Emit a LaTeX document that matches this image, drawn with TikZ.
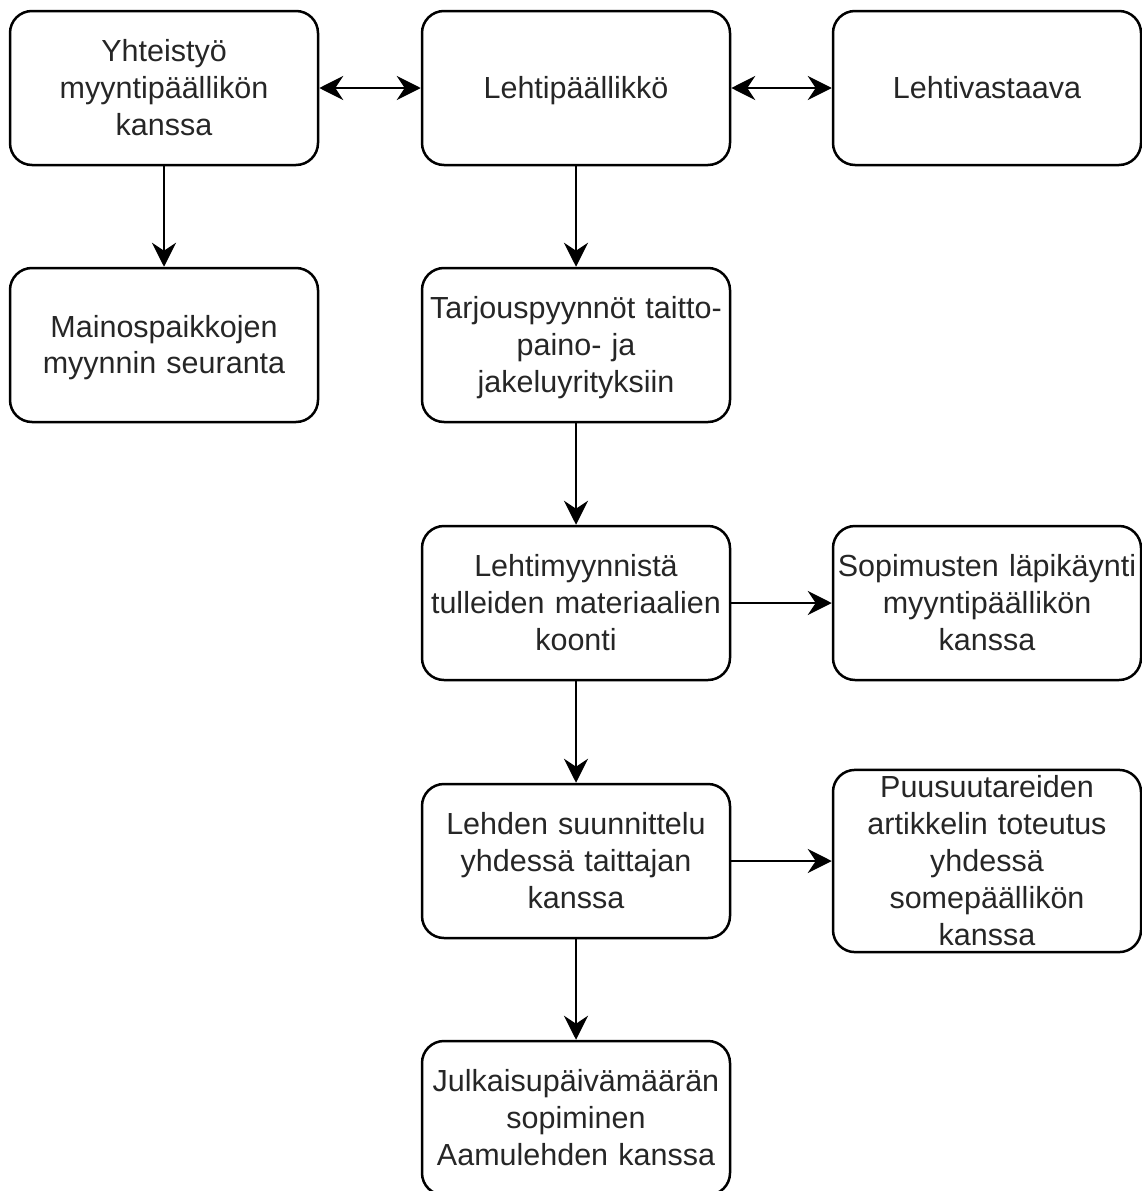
\documentclass[tikz,border=0pt]{standalone}
\usepackage{fontspec}
\setmainfont{Liberation Sans}
\usetikzlibrary{arrows.meta}
\newcommand\boxstrut{\rule[-7pt]{0pt}{35pt}}
\tikzset{
  box/.style={draw, rounded corners=22pt, minimum width=308pt, minimum height=154pt,
    line width=2.5pt, align=center, text width=306pt, inner sep=0pt,
    font=\fontsize{30.5}{36.8}\selectfont, text=black!85,
    execute at begin node=\boxstrut, execute at end node=\boxstrut},
  tip/.tip={Stealth[length=24pt,width=24pt,inset=8pt]},
  arr/.style={line width=2.5pt, -tip},
  darr/.style={line width=2.5pt, tip-tip}
}
\begin{document}
\begin{tikzpicture}[x=1pt,y=-1pt]
\useasboundingbox (0,0) rectangle (1141,1191);
\node[box] (yht) at (164,88) {Yhteistyö\\myyntipäällikön\\kanssa};
\node[box] (leh) at (576,88) {Lehtipäällikkö};
\node[box] (lva) at (987,88) {Lehtivastaava};
\node[box] (mai) at (164,345) {Mainospaikkojen\\myynnin seuranta};
\node[box] (tar) at (576,345) {Tarjouspyynnöt taitto-\\paino- ja\\jakeluyrityksiin};
\node[box] (lmy) at (576,603) {Lehtimyynnistä\\tulleiden materiaalien\\koonti};
\node[box] (sop) at (987,603) {Sopimusten läpikäynti\\myyntipäällikön\\kanssa};
\node[box] (lsu) at (576,861) {Lehden suunnittelu\\yhdessä taittajan\\kanssa};
\node[box, minimum height=181pt] (puu) at (987,861) {Puusuutareiden\\artikkelin toteutus\\yhdessä\\somepäällikön\\kanssa};
\node[box] (jul) at (576,1118) {Julkaisupäivämäärän\\sopiminen\\Aamulehden kanssa};
\draw[darr] (yht) -- (leh);
\draw[darr] (leh) -- (lva);
\draw[arr] (yht) -- (mai);
\draw[arr] (leh) -- (tar);
\draw[arr] (tar) -- (lmy);
\draw[arr] (lmy) -- (sop);
\draw[arr] (lmy) -- (lsu);
\draw[arr] (lsu) -- (puu);
\draw[arr] (lsu) -- (jul);
\end{tikzpicture}
\end{document}
